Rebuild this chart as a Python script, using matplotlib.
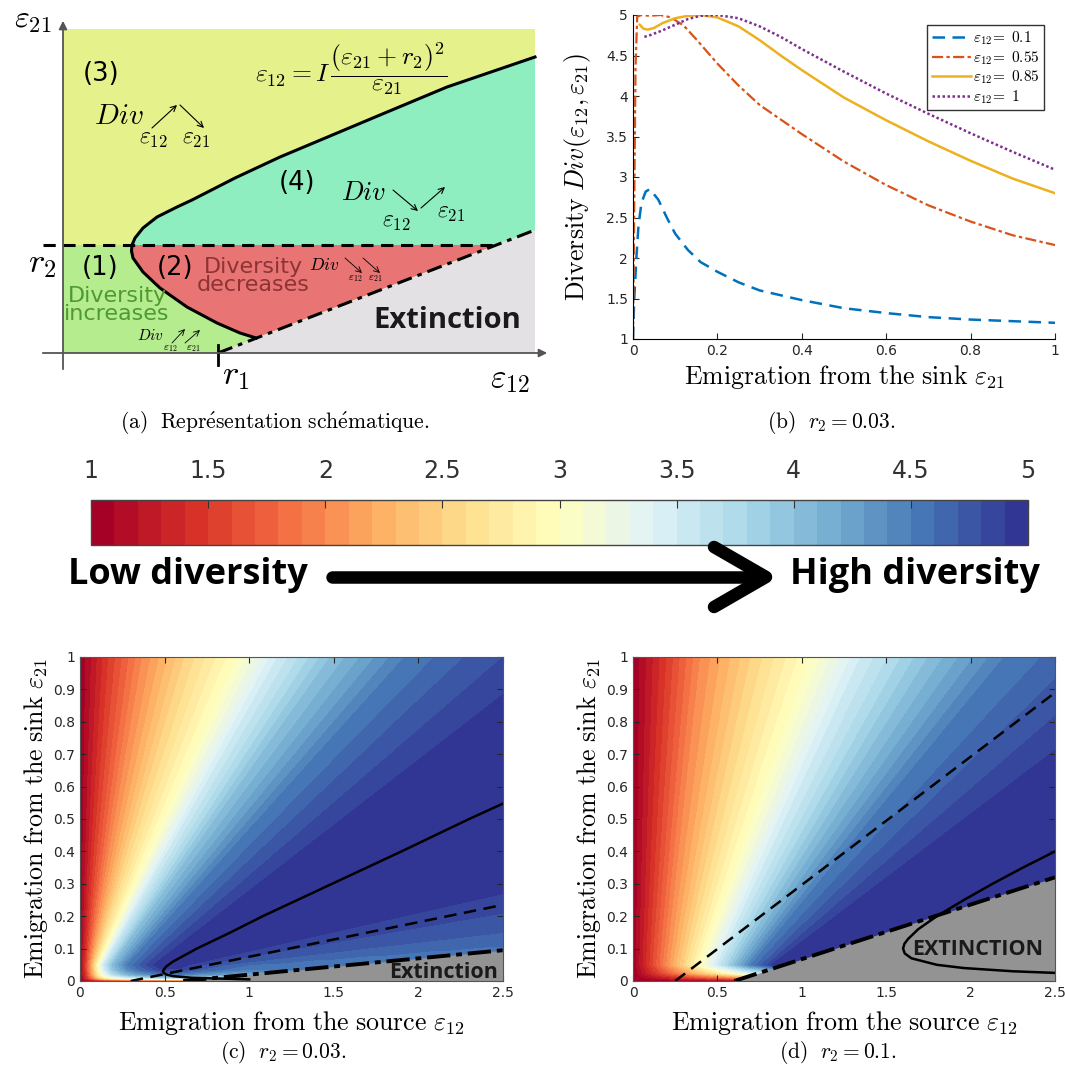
import numpy as np
import matplotlib
matplotlib.use("Agg")
import matplotlib.pyplot as plt
from matplotlib.ticker import FormatStrFormatter

plt.rcParams['mathtext.fontset'] = 'cm'
plt.rcParams['font.family'] = 'DejaVu Sans'

# ---------- (a) schematic, in sketch units ----------
sk_w, sk_h = 4.72, 3.24          # filled box
r2_a = 1.08                      # r2 level
ext_a_x = [1.55, 4.72]           # extinction line from r1
ext_a_y = [0.0, 1.23]
sk_curve_x = [4.72, 3.84, 3.17, 2.17, 1.72, 1.29, 1.14, 0.94, 0.80, 0.72, 0.69,
              0.685, 0.70, 0.80, 0.97, 1.24, 1.54, 1.77, 1.93]
sk_curve_y = [2.96, 2.66, 2.38, 1.96, 1.75, 1.53, 1.46, 1.36, 1.25, 1.15, 1.08,
              1.02, 0.95, 0.81, 0.65, 0.46, 0.30, 0.20, 0.15]

# ---------- (b) diversity vs eps21 ----------
blue_x = [0, 0.003, 0.008, 0.013, 0.02, 0.03, 0.04, 0.06, 0.08, 0.1, 0.13, 0.16, 0.2,
          0.25, 0.3, 0.4, 0.5, 0.6, 0.7, 0.8, 0.9, 1.0]
blue_y = [1.0, 1.5, 2.0, 2.4, 2.68, 2.82, 2.85, 2.72, 2.5, 2.3, 2.1, 1.95, 1.83,
          1.7, 1.6, 1.48, 1.38, 1.32, 1.27, 1.24, 1.22, 1.2]
orange_x = [0, 0.003, 0.006, 0.01, 0.02, 0.04, 0.065, 0.09, 0.12, 0.15, 0.2, 0.25,
            0.3, 0.4, 0.5, 0.6, 0.7, 0.8, 0.9, 1.0]
orange_y = [1.0, 2.7, 4.36, 4.98, 5.0, 4.99, 5.0, 4.97, 4.87, 4.7, 4.4, 4.13,
            3.89, 3.53, 3.19, 2.9, 2.65, 2.45, 2.28, 2.16]
yellow_x = [0.016, 0.025, 0.035, 0.05, 0.07, 0.1, 0.13, 0.16, 0.2, 0.25, 0.3, 0.35,
            0.4, 0.5, 0.6, 0.7, 0.8, 0.9, 1.0]
yellow_y = [4.88, 4.83, 4.82, 4.84, 4.9, 4.96, 4.99, 5.0, 4.97, 4.86, 4.69, 4.5,
            4.32, 3.98, 3.7, 3.44, 3.2, 2.98, 2.8]
purple_x = [0.027, 0.04, 0.065, 0.1, 0.13, 0.16, 0.2, 0.25, 0.3, 0.35, 0.4, 0.5,
            0.6, 0.7, 0.8, 0.9, 1.0]
purple_y = [4.73, 4.75, 4.8, 4.88, 4.95, 4.99, 5.0, 4.96, 4.86, 4.73, 4.58, 4.3,
            4.03, 3.78, 3.54, 3.31, 3.09]
b_labels = ['0.1', '0.55', '0.85', '1']

# ---------- (c) r2 = 0.03: contour lines ----------
# level, eps12 where it crosses eps21 = ylow, and where it meets the frame
c_ylow = 0.05
c_lev = [1.0, 1.5, 2.0, 2.5, 3.0, 3.5, 4.0, 4.5, 4.75, 5.0, 5.0, 4.9, 4.8, 4.7, 4.6]
c_xlow = [0.0, 0.035, 0.06, 0.085, 0.11, 0.14, 0.19, 0.28, 0.37, 0.48, 0.58, 0.64, 0.72, 0.85, 1.0]
c_xedge = [0.0, 0.17, 0.37, 0.62, 0.93, 1.17, 1.48, 1.92, 2.36, 2.5, 2.5, 2.5, 2.5, 2.5, 2.5]
c_yedge = [1, 1, 1, 1, 1, 1, 1, 1, 1, 0.79, 0.35, 0.27, 0.21, 0.15, 0.11]
c_h_y = [0, 0.005, 0.01, 0.02, 0.035, 0.05]
c_h_v = [0, 0.45, 0.7, 0.88, 0.97, 1.0]
c_curve_e21 = [0.005, 0.01, 0.015, 0.02, 0.025, 0.03, 0.035, 0.045, 0.06, 0.1, 0.15, 0.2,
               0.3, 0.4, 0.5, 0.55]
c_curve_e12 = [1.0, 0.66, 0.55, 0.51, 0.496, 0.49, 0.495, 0.51, 0.55, 0.69, 0.89, 1.08,
               1.49, 1.9, 2.3, 2.51]
c_dash_x, c_dash_y = [0.3, 2.5], [0.0, 0.235]
c_ext_x, c_ext_y = [0.61, 2.5], [0.0, 0.095]

# ---------- (d) r2 = 0.1 ----------
d_ylow = 0.05
d_lev = [1.0, 1.5, 2.0, 2.5, 3.0, 3.5, 4.0, 4.5, 4.75, 5.0]
d_xlow = [0.0, 0.1, 0.2, 0.3, 0.4, 0.5, 0.6, 0.7, 0.78, 0.85]
d_xedge = [0.0, 0.2, 0.4, 0.7, 1.05, 1.35, 1.75, 2.2, 2.5, 2.5]
d_yedge = [1, 1, 1, 1, 1, 1, 1, 1, 0.88, 0.63]
d_h_y = [0, 0.005, 0.01, 0.025, 0.05]
d_h_v = [0, 0.15, 0.3, 0.7, 1.0]
d_curve_e21 = [0.025, 0.03, 0.04, 0.05, 0.07, 0.085, 0.1, 0.115, 0.13, 0.16, 0.2, 0.25,
               0.3, 0.35, 0.4]
d_curve_e12 = [2.5, 2.25, 1.96, 1.8, 1.65, 1.61, 1.6, 1.608, 1.63, 1.69, 1.8, 1.96,
               2.13, 2.31, 2.5]
d_dash_x, d_dash_y = [0.25, 2.5], [0.0, 0.89]
d_ext_x, d_ext_y = [0.6, 2.5], [0.0, 0.32]

cbar_ticks = [1, 1.5, 2, 2.5, 3, 3.5, 4, 4.5, 5]

W, H = 1065, 1075
fig = plt.figure(figsize=(W / 100, H / 100), dpi=100)


def box(x0, y0, x1, y1):
    return [x0 / W, 1 - y1 / H, (x1 - x0) / W, (y1 - y0) / H]


# ================= (a) =================
ax = fig.add_axes(box(0, 0, 560, 400))
ax.set_xlim(-0.63, 4.97)
ax.set_ylim(-0.47, 3.53)
ax.axis('off')

cx, cy = list(sk_curve_x), list(sk_curve_y)
iv = cy.index(r2_a)
r2_end = np.interp(r2_a, ext_a_y, ext_a_x)
up_x, up_y = cx[:iv + 1], cy[:iv + 1]
lo_x, lo_y = cx[iv:], cy[iv:]

ax.fill([0, sk_w, sk_w, 0], [0, 0, sk_h, sk_h], color='#e5f28c', lw=0)
ax.fill(up_x + [r2_end, ext_a_x[1]], up_y + [r2_a, ext_a_y[1]], color='#8eeec0', lw=0)
ax.fill([0, 0] + lo_x + [ext_a_x[0]], [0, r2_a] + lo_y + [0], color='#b5ec8e', lw=0)
ax.fill(lo_x + [r2_end], lo_y + [r2_a], color='#e87474', lw=0)
ax.fill([ext_a_x[0], ext_a_x[1], ext_a_x[1]], [0, ext_a_y[1], 0], color='#e3e1e3', lw=0)

ax.plot(cx, cy, color='k', lw=2.2, solid_joinstyle='round')
ax.plot([-0.2, r2_end], [r2_a, r2_a], color='k', lw=2.2, dashes=(4, 2.5))
ax.plot(ext_a_x, ext_a_y, color='k', lw=2.2, dashes=(5, 2, 1.5, 2))
ax.annotate('', xy=(4.87, 0), xytext=(-0.23, 0),
            arrowprops=dict(arrowstyle='-|>', color='#555555', lw=1.3, mutation_scale=12))
ax.annotate('', xy=(0, 3.35), xytext=(0, -0.19),
            arrowprops=dict(arrowstyle='-|>', color='#555555', lw=1.3, mutation_scale=12))
ax.plot([ext_a_x[0], ext_a_x[0]], [-0.12, 0.08], color='k', lw=2)

ax.text(-0.3, 3.33, r'$\varepsilon_{21}$', fontsize=23, ha='center', va='center')
ax.text(-0.21, 0.9, r'$r_2$', fontsize=25, ha='center', va='center')
ax.text(1.73, -0.22, r'$r_1$', fontsize=25, ha='center', va='center')
ax.text(4.47, -0.26, r'$\varepsilon_{12}$', fontsize=24, ha='center', va='center')

ax.text(1.92, 2.84, r'$\varepsilon_{12} = I\,\dfrac{(\varepsilon_{21}+r_2)^2}{\varepsilon_{21}}$',
        fontsize=18.5, ha='left', va='center')

for lab, xx, yy in [('(3)', 0.38, 2.79), ('(4)', 2.34, 1.70), ('(1)', 0.37, 0.85), ('(2)', 1.12, 0.85)]:
    ax.text(xx, yy, lab, fontsize=18.5, ha='center', va='center')


def div_arrows(x0, y0, fs, sub_fs, arrows, subs, lw=0.8):
    ax.text(x0, y0, r'$Div$', fontsize=fs, ha='left', va='center')
    for (xa, ya, xb, yb) in arrows:
        ax.annotate('', xy=(xb, yb), xytext=(xa, ya),
                    arrowprops=dict(arrowstyle='->', color='k', lw=lw, shrinkA=0, shrinkB=0))
    for (lab, xs, ys) in subs:
        ax.text(xs, ys, lab, fontsize=sub_fs, ha='center', va='center')


div_arrows(0.31, 2.37, 21, 17,
           [(0.89, 2.25, 1.14, 2.48), (1.17, 2.48, 1.41, 2.25)],
           [(r'$\varepsilon_{12}$', 0.90, 2.15), (r'$\varepsilon_{21}$', 1.33, 2.15)])
div_arrows(2.78, 1.60, 19, 17,
           [(3.30, 1.63, 3.55, 1.42), (3.58, 1.45, 3.82, 1.66)],
           [(r'$\varepsilon_{12}$', 3.33, 1.32), (r'$\varepsilon_{21}$', 3.88, 1.41)])
div_arrows(2.46, 0.88, 12.5, 8,
           [(2.82, 0.95, 2.99, 0.80), (3.00, 0.95, 3.17, 0.80)],
           [(r'$\varepsilon_{12}$', 2.92, 0.74), (r'$\varepsilon_{21}$', 3.12, 0.74)], lw=0.6)
div_arrows(0.74, 0.18, 11, 8,
           [(1.09, 0.10, 1.22, 0.24), (1.22, 0.10, 1.37, 0.23)],
           [(r'$\varepsilon_{12}$', 1.07, 0.045), (r'$\varepsilon_{21}$', 1.30, 0.045)], lw=0.6)

ax.text(0.54, 0.48, 'Diversity\nincreases', fontsize=16, color='#4f9a2f', ha='center',
        va='center', linespacing=0.9)
ax.text(1.90, 0.77, 'Diversity\ndecreases', fontsize=16, color='#8c3434', ha='center',
        va='center', linespacing=0.9)
ax.text(3.10, 0.33, 'Extinction', fontsize=21, family='Open Sans', weight='bold',
        color='#1a1a1a', ha='left', va='center')

# ================= (b) =================
axb = fig.add_axes(box(633, 15, 1055, 339))
axb.plot(blue_x, blue_y, color='#0072bd', lw=1.8, dashes=(5, 3),
         label=r'$\varepsilon_{12}\!=\ %s$' % b_labels[0])
axb.plot(orange_x, orange_y, color='#d95319', lw=1.6, dashes=(5, 1.5, 1.5, 1.5),
         label=r'$\varepsilon_{12}\!=\ %s$' % b_labels[1])
axb.plot(yellow_x, yellow_y, color='#edb120', lw=1.8,
         label=r'$\varepsilon_{12}\!=\ %s$' % b_labels[2])
axb.plot(purple_x, purple_y, color='#7e2f8e', lw=1.8, dashes=(1, 1),
         label=r'$\varepsilon_{12}\!=\ %s$' % b_labels[3])
axb.set_xlim(0, 1)
axb.set_ylim(1, 5)
axb.set_xticks([0, 0.2, 0.4, 0.6, 0.8, 1])
axb.set_yticks([1, 1.5, 2, 2.5, 3, 3.5, 4, 4.5, 5])
axb.xaxis.set_major_formatter(FormatStrFormatter('%g'))
axb.yaxis.set_major_formatter(FormatStrFormatter('%g'))
axb.tick_params(direction='in', labelsize=10, colors='#262626', length=4)
for s in ['top', 'right']:
    axb.spines[s].set_visible(False)
axb.set_xlabel(r'$\mathrm{Emigration\ from\ the\ sink}\ \varepsilon_{21}$', fontsize=18.6)
axb.set_ylabel(r'$\mathrm{Diversity}\ Div(\varepsilon_{12},\varepsilon_{21})$', fontsize=18.6)
axb.xaxis.set_label_coords(0.5, -0.075)
axb.yaxis.set_label_coords(-0.095, 0.5)
leg = axb.legend(loc='upper right', bbox_to_anchor=(0.974, 0.969), borderaxespad=0,
                 fontsize=11, handlelength=2.6, handletextpad=0.1, labelspacing=0.12,
                 fancybox=False, framealpha=1, borderpad=0.3)
leg.get_frame().set_edgecolor('#333333')
leg.get_frame().set_linewidth(1.0)

# ================= colour maps (c), (d) =================
levels = np.linspace(1, 5, 41)
cmap = plt.get_cmap('RdYlBu', 40)
xg = np.linspace(0, 2.5, 500)
yg = np.linspace(0, 1, 400)


def div_field(lev, xlow, ylow, xedge, yedge, hy, hv):
    lev = np.array(lev)
    xlow = np.array(xlow)
    xedge = np.array(xedge)
    yedge = np.array(yedge, dtype=float)
    Z = np.empty((len(yg), len(xg)))
    for j, yy in enumerate(yg):
        xs = xlow + (xedge - xlow) * (max(yy, ylow) - ylow) / (yedge - ylow)
        xs = np.maximum.accumulate(xs)
        Z[j] = np.interp(xg, xs, lev)
    h = np.interp(yg, hy, hv)
    Z = 1 + (Z - 1) * h[:, None]
    return np.clip(Z, 1, 4.999)


def draw_map(rect, Z, curve_x, curve_y, dash_x, dash_y, ext_x, ext_y):
    a = fig.add_axes(rect)
    cs = a.contourf(xg, yg, Z, levels=levels, cmap=cmap, vmin=1, vmax=5)
    a.fill_between(ext_x, 0, ext_y, color='#939393', lw=0, zorder=2)
    a.plot(curve_x, curve_y, color='k', lw=1.8, zorder=3)
    a.plot(dash_x, dash_y, color='k', lw=1.8, dashes=(5, 3), zorder=3)
    a.plot(ext_x, ext_y, color='k', lw=2.8, dashes=(6, 1.5, 1.5, 1.5), zorder=3)
    a.set_xlim(0, 2.5)
    a.set_ylim(0, 1)
    a.set_xticks([0, 0.5, 1, 1.5, 2, 2.5])
    a.set_yticks(np.round(np.arange(0, 1.01, 0.1), 1))
    a.xaxis.set_major_formatter(FormatStrFormatter('%g'))
    a.yaxis.set_major_formatter(FormatStrFormatter('%g'))
    a.tick_params(direction='in', labelsize=10, colors='#262626', length=4,
                  top=True, right=True)
    for s in a.spines.values():
        s.set_color('#555555')
        s.set_linewidth(0.8)
        s.set_zorder(4)
    a.set_xlabel(r'$\mathrm{Emigration\ from\ the\ source}\ \varepsilon_{12}$', fontsize=18.6)
    a.set_ylabel(r'$\mathrm{Emigration\ from\ the\ sink}\ \varepsilon_{21}$', fontsize=18.6)
    a.xaxis.set_label_coords(0.5, -0.085)
    a.yaxis.set_label_coords(-0.07, 0.5)
    return a, cs


Zc = div_field(c_lev, c_xlow, c_ylow, c_xedge, c_yedge, c_h_y, c_h_v)
Zd = div_field(d_lev, d_xlow, d_ylow, d_xedge, d_yedge, d_h_y, d_h_v)
axc, cs_c = draw_map(box(80, 657, 503, 981), Zc, c_curve_e12, c_curve_e21,
                     c_dash_x, c_dash_y, c_ext_x, c_ext_y)
axd, cs_d = draw_map(box(633, 657, 1055, 981), Zd, d_curve_e12, d_curve_e21,
                     d_dash_x, d_dash_y, d_ext_x, d_ext_y)
axc.text(2.47, 0.027, 'Extinction', fontsize=15.5, family='Open Sans', weight='bold',
         color='#1a1a1a', ha='right', va='center', zorder=5)
axd.text(2.04, 0.098, 'EXTINCTION', fontsize=15.5, family='Open Sans', weight='bold',
         color='#1a1a1a', ha='center', va='center', zorder=5)

# ================= colour bar =================
cax = fig.add_axes(box(91, 500, 1028, 545))
cb = fig.colorbar(cs_c, cax=cax, orientation='horizontal', ticklocation='top')
cb.set_ticks(cbar_ticks)
cb.ax.xaxis.set_major_formatter(FormatStrFormatter('%g'))
cb.ax.tick_params(direction='in', length=6, color='#333333', labelsize=17,
                  labelcolor='#333333', pad=12)
cb.outline.set_edgecolor('#444444')
cb.outline.set_linewidth(1.0)

# ================= overlay: arrow, captions =================
ov = fig.add_axes([0, 0, 1, 1])
ov.set_xlim(0, W)
ov.set_ylim(H, 0)
ov.axis('off')
ov.plot([332, 762], [577, 577], color='k', lw=9, solid_capstyle='round')
ov.plot([714, 766, 714], [547, 577, 607], color='k', lw=9, solid_capstyle='round',
        solid_joinstyle='round')
ov.text(68, 575, 'Low diversity', fontsize=26, family='Open Sans', weight='bold',
        ha='left', va='center')
ov.text(1040, 575, 'High diversity', fontsize=26, family='Open Sans', weight='bold',
        ha='right', va='center')

ov.text(275, 422, r'$\mathrm{(a)\ \ Repr\acute{e}sentation\ sch\acute{e}matique.}$',
        fontsize=15.5, ha='center', va='center')
ov.text(831, 422, r'$\mathrm{(b)}\ \ r_2 = 0.03.$', fontsize=15.5, ha='center', va='center')
ov.text(283, 1053, r'$\mathrm{(c)}\ \ r_2 = 0.03.$', fontsize=15.5, ha='center', va='center')
ov.text(838, 1053, r'$\mathrm{(d)}\ \ r_2 = 0.1.$', fontsize=15.5, ha='center', va='center')

fig.savefig('out.png', dpi=100)
